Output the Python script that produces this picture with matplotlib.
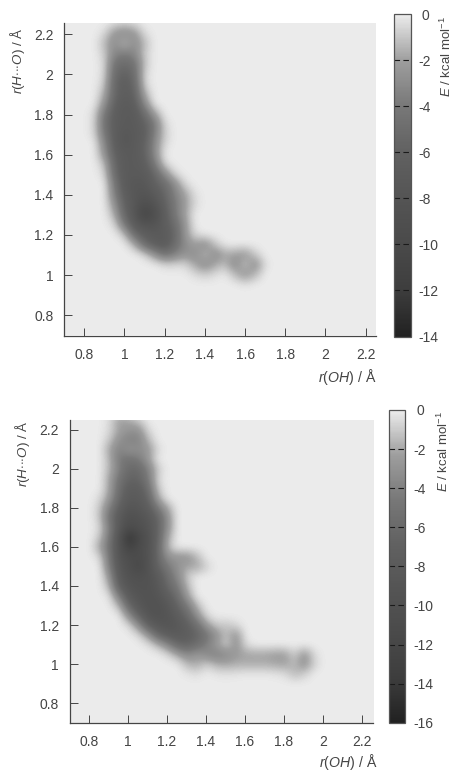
import matplotlib
matplotlib.use("Agg")
import numpy as np
import matplotlib.pyplot as plt
from matplotlib.colors import LinearSegmentedColormap
from matplotlib.transforms import ScaledTranslation

plt.rcParams['font.family'] = ['Liberation Sans', 'DejaVu Sans']
plt.rcParams['mathtext.fontset'] = 'custom'
plt.rcParams['mathtext.rm'] = 'Liberation Sans'
plt.rcParams['mathtext.it'] = 'Liberation Sans:italic'
plt.rcParams['mathtext.default'] = 'regular'

ticks = [0.8, 1, 1.2, 1.4, 1.6, 1.8, 2, 2.2]
tick_labels = ['0.8', '1', '1.2', '1.4', '1.6', '1.8', '2', '2.2']
x_label = r'$\mathit{r(OH)}$ / Å'
y_label = r'$\mathit{r(H{\cdot}{\cdot}{\cdot}O)}$ / Å'
cb_label = r'$\mathit{E}$ / kcal mol$^{-1}$'
ticks_top = [0, -2, -4, -6, -8, -10, -12, -14]
ticks_bottom = [0, -2, -4, -6, -8, -10, -12, -14, -16]

y_grid = [2.25, 2.20, 2.15, 2.10, 2.05, 2.00, 1.95, 1.90, 1.85, 1.80, 1.75, 1.70, 1.65, 1.60,
          1.55, 1.50, 1.45, 1.40, 1.35, 1.30, 1.25, 1.20, 1.15, 1.10, 1.05, 1.00, 0.95]
x_top = [0.85, 0.90, 0.95, 1.00, 1.05, 1.10, 1.15, 1.20, 1.25, 1.30, 1.35, 1.40, 1.45, 1.50,
         1.55, 1.60, 1.65, 1.70]
E_top = [
    [0, 0, -0.4, -0.7, -0.4],
    [0, -0.5, -2.5, -3, -2.5, -0.4],
    [0, -1.3, -3, -1.1, -3, -1.3],
    [0, -0.8, -3.2, -3.8, -3.2, -0.8],
    [0, -0.5, -4.5, -5, -4.5, -1],
    [0, -0.5, -5, -6, -5, -0.5],
    [0, -0.8, -5.5, -6.5, -5.5, -0.5],
    [0, -1.5, -5.5, -6.5, -6, -1.5],
    [0, -2.5, -6, -7, -6.5, -3],
    [-0.5, -4, -6.5, -7, -7, -5, -2],
    [-0.5, -4.5, -6.5, -7, -7, -6, -4, -0.5],
    [-0.5, -4, -6.5, -7.5, -7, -6.5, -3.5, -0.8],
    [0, -3, -6.5, -7.5, -7, -6, -3, -0.5],
    [0, -2.5, -6, -7, -7, -6, -3],
    [0, -1, -5.5, -7, -7, -6.5, -4, -0.5],
    [0, -0.5, -5, -7, -7, -7, -5.5, -3, -0.5],
    [0, 0, -4, -7, -7.5, -7.5, -6, -5, -3, -0.5],
    [0, 0, -3.5, -6.5, -7.5, -8, -7, -5.5, -3.5, -2, -0.3],
    [0, 0, -2.5, -6, -7.5, -9, -8, -6, -4, -2.2, -0.5],
    [0, 0, -1.5, -5.5, -7.5, -11, -9, -6.5, -4, -2],
    [0, 0, -0.5, -4, -7, -8, -8, -6.5, -5, -2.5],
    [0, 0, 0, -1, -5, -6.5, -7, -7, -5.5, -2.5, -0.5],
    [0, 0, 0, 0, -1.5, -5, -6.5, -7, -5, -3, -2, -3, -1],
    [0, 0, 0, 0, 0, -0.5, -2.5, -4.5, -3.5, -2.5, -3, -1, -3, -1.8, -2, -2.5, -0.8],
    [0, 0, 0, 0, 0, 0, 0, -0.5, -0.5, -0.5, -1.8, -3, -1.8, -1.2, -3, -0.8, -3, -0.3],
    [0, 0, 0, 0, 0, 0, 0, 0, 0, 0, -0.4, -0.8, -0.4, 0, -1.3, -2.6, -1.3],
    [0, 0, 0, 0, 0, 0, 0, 0, 0, 0, 0, 0, 0, 0, 0, -0.2],
]
x_bottom = [0.85, 0.90, 0.95, 1.00, 1.05, 1.10, 1.15, 1.20, 1.25, 1.30, 1.35, 1.40, 1.45, 1.50,
            1.55, 1.60, 1.65, 1.70, 1.75, 1.80, 1.85, 1.90, 1.95]
E_bottom = [
    [0, -0.5, -2.5, -2, -1],
    [0, -0.5, -2.2, -2.8, -3, -0.5],
    [0, -1, -3, -4, -4, -1.5],
    [0, -2, -4, -2.8, -3.2, -2.8, -0.5],
    [0, -1.5, -4.5, -5, -4.5, -2.5],
    [0, -1.5, -4, -6, -6, -4, -1],
    [0, -2, -5, -6.5, -6.5, -4.5, -0.5],
    [0, -2, -5.5, -7.5, -7.5, -5.5, -1],
    [-0.5, -2.5, -6, -8, -8, -6.5, -2],
    [-1, -4, -7, -9, -8.5, -7.5, -4.5, -2],
    [-1, -5, -8, -10, -9.5, -8.5, -6.5, -3],
    [-0.5, -4, -8, -11, -10, -9, -6.5, -3],
    [-1, -4.5, -9, -15, -12, -9.5, -6.5, -2],
    [-2, -5, -9, -13, -11, -9.5, -6, -1.5],
    [-0.5, -4.5, -9, -10.5, -11, -9.5, -6, -3, -2.8, -3, -1.5],
    [0, -4, -8.5, -10, -12, -9.5, -6.5, -4.5, -3, -2, -2.2, -0.8],
    [0, -2.5, -8, -9.5, -10, -9.5, -8, -5.5, -3.5, -1],
    [0, -1.5, -7, -9, -9.5, -9.5, -8.5, -6, -4.5, -1.5],
    [0, -0.3, -4, -8, -9, -9.5, -9, -7.5, -5.5, -2.5],
    [0, 0, -1.5, -6, -8.5, -9.5, -9.5, -8.5, -6.5, -4.5, -1.5],
    [0, 0, 0, -3, -6.5, -9, -9.5, -9, -7.5, -6, -3, -0.5],
    [0, 0, 0, -0.5, -3, -7, -8.5, -9, -8.5, -7, -5.5, -2.5, -1, -1.2, -0.6],
    [0, 0, 0, 0, -0.5, -2.5, -6, -7.5, -8, -7.5, -6.5, -5, -3, -1.2, -3],
    [0, 0, 0, 0, 0, -0.3, -1.5, -3.5, -6, -6.5, -5.5, -4, -2.5, -0.8, -3, -0.5],
    [0, 0, 0, 0, 0, 0, 0, -0.5, -2, -3.5, -2.5, -3.5, -4, -3.5, -2.5, -2.2, -2.2, -2.2, -2.5, -2.5, -0.8, -3, -0.5],
    [0, 0, 0, 0, 0, 0, 0, 0, 0, -1.5, -2, -0.8, -1.8, -2, -1.8, -1.8, -1.8, -1.8, -2, -2.2, -1.5, -3, -0.8],
    [0, 0, 0, 0, 0, 0, 0, 0, 0, -0.2, -0.4, 0, -0.2, -0.3, -0.2, -0.1, -0.1, -0.1, -0.2, -0.4, -1.5, -0.8],
]

# gray level against fraction of the colour range
cmap_pos = [0, 1/7, 2/7, 3/7, 4/7, 5/7, 6/7, 1]
cmap_gray = [0.13, 0.24, 0.29, 0.33, 0.38, 0.47, 0.62, 0.925]
gray_map = LinearSegmentedColormap.from_list(
    'g', [(p, (g, g, g)) for p, g in zip(cmap_pos, cmap_gray)])

W, H = 454, 770
fig = plt.figure(figsize=(W / 100, H / 100), dpi=100)
ink = '#444444'
fs = 10


def rect(l, t, r, b):
    return [l / W, 1 - b / H, (r - l) / W, (b - t) / H]


def panel(box, cbox, xs, rows, vmin, cb_ticks, xlim, ylim, xlab_xy, ylab_xy, cblab_xy):
    ax = fig.add_axes(rect(*box))
    grid = np.array([r + [0] * (len(xs) - len(r)) for r in rows], float)
    pad = 14
    grid = np.pad(grid, pad)
    dx = 0.05
    ext = [xs[0] - (pad + 0.5) * dx, xs[-1] + (pad + 0.5) * dx,
           y_grid[-1] - (pad + 0.5) * dx, y_grid[0] + (pad + 0.5) * dx]
    im = ax.imshow(grid, extent=ext, origin='upper', cmap=gray_map, vmin=vmin, vmax=0,
                   interpolation='bicubic', interpolation_stage='data', aspect='auto')
    ax.set_xlim(*xlim)
    ax.set_ylim(*ylim)
    for s in ('top', 'right'):
        ax.spines[s].set_visible(False)
    for s in ('left', 'bottom'):
        ax.spines[s].set_color(ink)
        ax.spines[s].set_linewidth(0.9)
    ax.set_xticks(ticks, tick_labels)
    ax.set_yticks(ticks, tick_labels)
    ax.tick_params(axis='x', direction='in', length=5.5, width=0.7, color=ink,
                   labelcolor=ink, labelsize=fs, pad=9)
    ax.tick_params(axis='y', direction='in', length=5.5, width=0.7, color=ink,
                   labelcolor=ink, labelsize=fs, pad=7.5)
    fig.text(xlab_xy[0] / W, 1 - xlab_xy[1] / H, x_label, ha='right', va='center',
             fontsize=10.2, color=ink)
    fig.text(ylab_xy[0] / W, 1 - ylab_xy[1] / H, y_label, ha='center', va='top',
             rotation=90, fontsize=9.6, color=ink)

    cax = fig.add_axes(rect(*cbox))
    cb = fig.colorbar(im, cax=cax, ticks=cb_ticks)
    cb.outline.set_edgecolor('#555555')
    cb.outline.set_linewidth(0.9)
    cb.ax.tick_params(length=0, labelsize=fs, labelcolor=ink, pad=5.5)
    cb.ax.set_yticklabels([str(t) for t in cb_ticks])
    cb.ax.get_yticklabels()[0].set_transform(
        cb.ax.get_yticklabels()[0].get_transform()
        + ScaledTranslation(3.5 / 100, 0, fig.dpi_scale_trans))
    cb.ax.hlines(cb_ticks[1:-1], 0, 1, transform=cb.ax.get_yaxis_transform(),
                 colors='#1a1a1a', linewidth=0.8, linestyles=(0, (5, 3)))
    fig.text(cblab_xy[0] / W, 1 - cblab_xy[1] / H, cb_label, ha='center', va='top',
             rotation=90, fontsize=9.5, color=ink)


panel((64, 23, 375.7, 335.5), (394, 14, 410.7, 336.5), x_top, E_top, -14, ticks_top,
      (0.699, 2.25), (0.6985, 2.2565), (376, 377), (17.5, 28), (446.5, 16))
panel((69.5, 420, 372.7, 722.7), (388.7, 410, 405.3, 722.7), x_bottom, E_bottom, -16, ticks_bottom,
      (0.699, 2.256), (0.7, 2.25), (377, 761.5), (22, 421), (443.5, 411))

fig.savefig('out.png', dpi=100)
